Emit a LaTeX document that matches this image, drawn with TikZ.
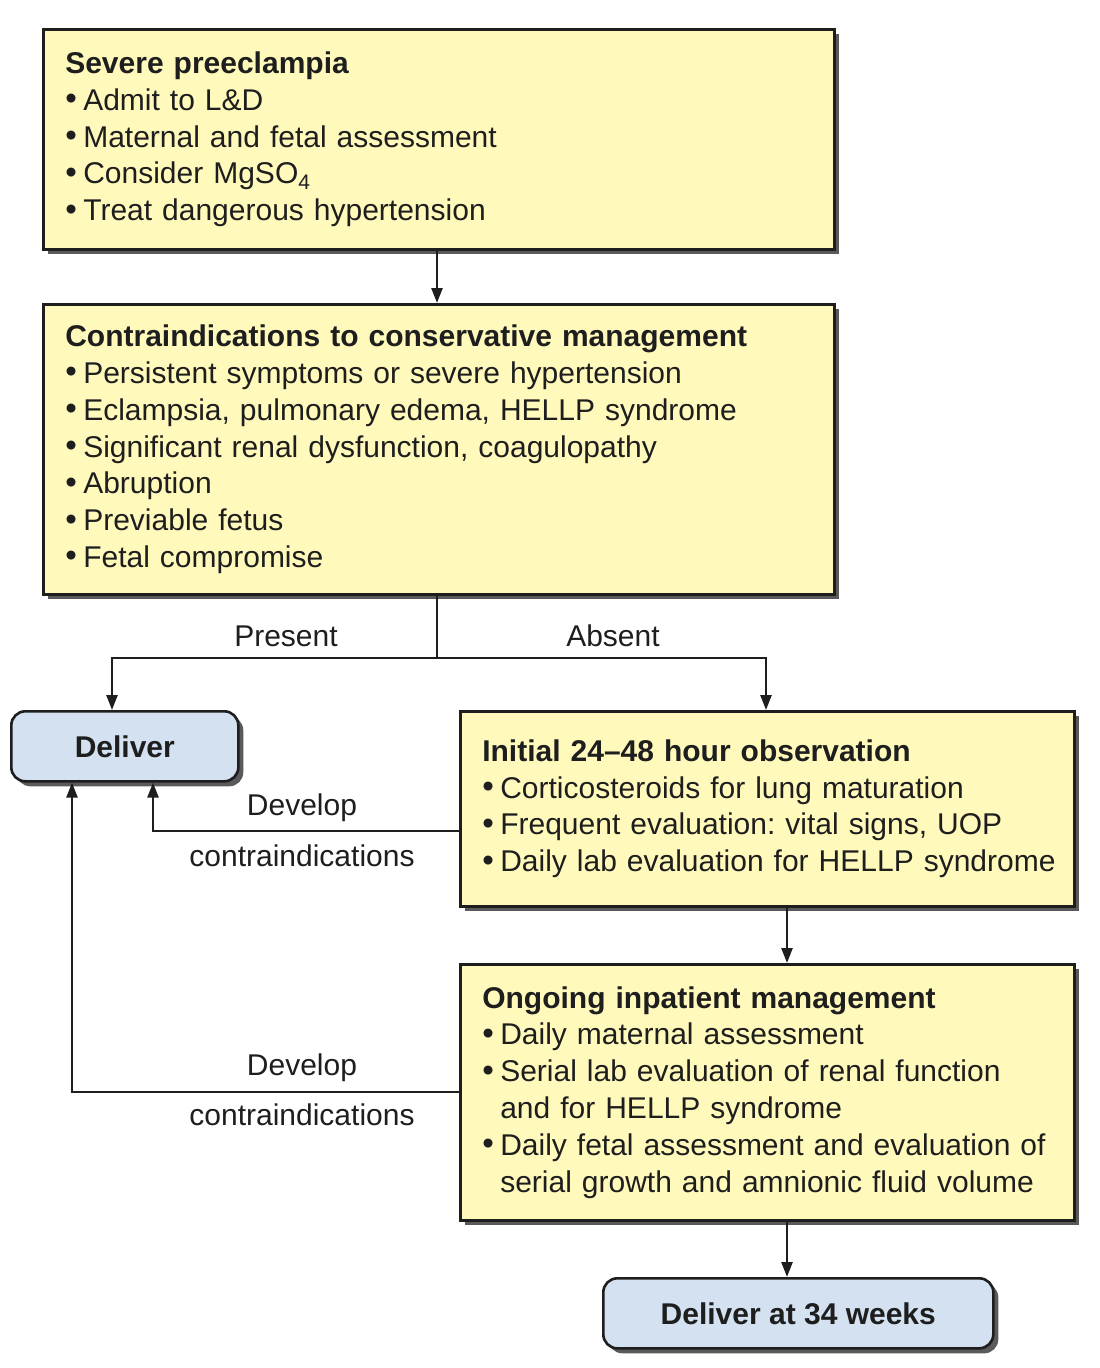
\documentclass[tikz,border=0pt]{standalone}
\usepackage{fontspec}
\setmainfont{Liberation Sans}
\usetikzlibrary{shadows,arrows.meta}
\frenchspacing
\definecolor{boxyellow}{RGB}{255,250,187}
\definecolor{boxblue}{RGB}{211,225,241}
\definecolor{shadowgrey}{RGB}{90,90,90}
\definecolor{ink}{RGB}{30,30,30}
\newcommand{\bl}{\makebox[18pt][l]{\raisebox{0.5pt}{\scalebox{1.1}{•}}}}
\newcommand{\ind}{\hspace*{18pt}}
\tikzset{
  x=1pt,y=-1pt,
  txt/.style={font=\fontsize{30}{36.8}\selectfont, text=ink},
  ybox/.style={txt, draw=ink, line width=2.6pt, fill=boxyellow, anchor=north west,
    align=left, inner xsep=22pt, inner ysep=0pt,
    drop shadow={shadow xshift=5pt, shadow yshift=-5pt, fill=shadowgrey, opacity=1}},
  bbox/.style={txt, font=\fontsize{30}{36.8}\selectfont\bfseries, draw=ink, line width=2.6pt,
    fill=boxblue, rounded corners=14pt, anchor=north west, inner sep=0pt,
    drop shadow={shadow xshift=5pt, shadow yshift=-5pt, fill=shadowgrey, opacity=1}},
  conn/.style={draw=ink, line width=2.5pt},
  arr/.style={conn, -{Triangle[length=15pt,width=11pt]}},
  lbl/.style={txt, inner sep=0pt}
}
\begin{document}
\begin{tikzpicture}
\useasboundingbox (0,0) rectangle (1100,1368);
\node[ybox, minimum width=791pt, minimum height=220pt, text width=747pt] (b1) at (42,28)
{\textbf{Severe preeclampia}\\
\bl Admit to L\&D\\
\bl Maternal and fetal assessment\\
\bl Consider MgSO\textsubscript{4}\\
\bl Treat dangerous hypertension};
\node[ybox, minimum width=791pt, minimum height=290pt, text width=747pt] (b2) at (42,303)
{\textbf{Contraindications to conservative management}\\
\bl Persistent symptoms or severe hypertension\\
\bl Eclampsia, pulmonary edema, HELLP syndrome\\
\bl Significant renal dysfunction, coagulopathy\\
\bl Abruption\\
\bl Previable fetus\\
\bl Fetal compromise};
\node[ybox, minimum width=614pt, minimum height=195pt, text width=570pt] (b3) at (459,710)
{\textbf{Initial 24–48 hour observation}\\
\bl Corticosteroids for lung maturation\\
\bl Frequent evaluation: vital signs, UOP\\
\bl\mbox{Daily lab evaluation for HELLP syndrome}};
\node[ybox, minimum width=614pt, minimum height=256pt, text width=570pt] (b4) at (459,963)
{\textbf{Ongoing inpatient management}\\
\bl Daily maternal assessment\\
\bl Serial lab evaluation of renal function\\
\ind and for HELLP syndrome\\
\bl\mbox{Daily fetal assessment and evaluation of}\\
\ind\mbox{serial growth and amnionic fluid volume}};
\node[bbox, minimum width=227pt, minimum height=70pt] (d1) at (10,710) {Deliver};
\node[bbox, minimum width=390pt, minimum height=70pt] (d2) at (602,1277) {Deliver at 34 weeks};

\coordinate (split) at (437,658);
\coordinate (sl) at (112,658);
\coordinate (sr) at (766,658);
\coordinate (c3) at (153,831);
\coordinate (c4) at (72,1092);

\draw[arr] (b1.south -| 437,0) -- (b2.north -| 437,0);
\draw[conn] (b2.south -| split) -- (split);
\draw[arr] (split) -- (sl) -- (d1.north -| sl);
\draw[arr] (split) -- (sr) -- (b3.north -| sr);
\draw[arr] (b3.west |- c3) -- (c3) -- (d1.south -| c3);
\draw[arr] (b4.west |- c4) -- (c4) -- (d1.south -| c4);
\draw[arr] (b3.south -| 787,0) -- (b4.north -| 787,0);
\draw[arr] (b4.south -| 787,0) -- (d2.north -| 787,0);

\node[lbl] (lp) at (286,636) {Present};
\node[lbl] (la) at (613,636) {Absent};
\node[lbl] (l1a) at (302,808) {Develop};
\node[lbl] (l1b) at (302,856) {contraindications};
\node[lbl] (l2a) at (302,1068) {Develop};
\node[lbl] (l2b) at (302,1115) {contraindications};
\end{tikzpicture}
\end{document}
